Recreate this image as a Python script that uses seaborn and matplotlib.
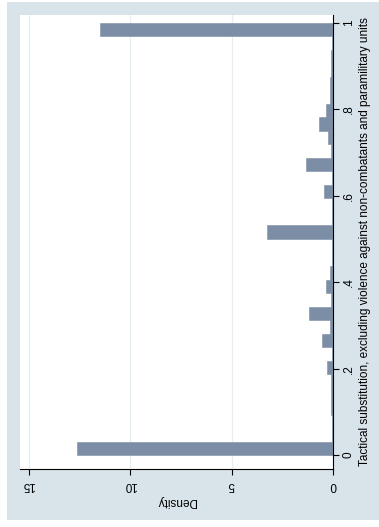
import numpy as np
import pandas as pd
import matplotlib
matplotlib.use("Agg")
import matplotlib.pyplot as plt
import seaborn as sns
from matplotlib.patches import Rectangle

# ---- data (histogram of tactical substitution, 32 bins on [0, 1]) ----
bin_edges = list(np.linspace(0, 1, 33))
densities = [12.6, 0.03, 0.05, 0.08, 0.10, 0.10, 0.31, 0.05,
             0.56, 0.15, 1.17, 0.10, 0.36, 0.15, 0.07, 0.03,
             3.27, 0.03, 0.05, 0.43, 0.05, 1.34, 0.08, 0.23,
             0.69, 0.33, 0.13, 0.13, 0.08, 0.08, 0.07, 11.5]
density_ticks = [0, 5, 10, 15]
value_ticks = [0, 0.2, 0.4, 0.6, 0.8, 1.0]
value_ticklabels = ["0", ".2", ".4", ".6", ".8", "1"]
xlabel = "Density"
ylabel = "Tactical substitution, excluding violence against non-combatants and paramilitary units"

edges_arr = np.array(bin_edges)
bin_centers = (edges_arr[:-1] + edges_arr[1:]) / 2
df = pd.DataFrame({"value": bin_centers, "density": densities})

sns.set_theme(style="white")
plt.rcParams["font.family"] = ["Liberation Sans", "DejaVu Sans"]
plt.rcParams["text.color"] = "black"
plt.rcParams["axes.labelcolor"] = "black"
plt.rcParams["xtick.color"] = "black"
plt.rcParams["ytick.color"] = "black"

W, H = 379, 527
fig = plt.figure(figsize=(W / 100, H / 100), dpi=100, facecolor="white")
fig.patches.append(Rectangle((7 / W, 1 - 520 / H), (W - 7) / W, (520 - 2) / H,
                             transform=fig.transFigure, facecolor="#D8E3EA",
                             edgecolor="none", zorder=-10))

ax = fig.add_axes([20 / W, 1 - 469 / H, (333 - 20) / W, (469 - 15) / H])
ax.set_facecolor("white")

bar_color = "#7C8EA5"
sns.histplot(data=df, y="value", weights="density", bins=bin_edges, stat="count",
             color=bar_color, alpha=1, edgecolor=bar_color, linewidth=0.4, ax=ax)

ax.set_xlim(15.42, 0)
ax.set_ylim(-0.032, 1.018)

ax.set_xticks(density_ticks)
ax.set_xticklabels([str(t) for t in density_ticks])
ax.set_yticks(value_ticks)
ax.set_yticklabels(value_ticklabels)

ax.grid(False)
for t in density_ticks[1:]:
    ax.axvline(t, color="#E7EEF2", lw=0.9, zorder=0)
ax.set_axisbelow(True)

ax.yaxis.tick_right()
ax.yaxis.set_label_position("right")
ax.tick_params(axis="y", direction="out", length=4, width=0.8, color="black",
               labelcolor="black", labelrotation=90, labelsize=8.5, pad=3,
               left=False, right=True)
ax.tick_params(axis="x", direction="out", length=4, width=0.8, color="black",
               labelcolor="black", labelrotation=180, labelsize=8.5, pad=3,
               bottom=True)
for lbl in ax.get_yticklabels():
    lbl.set_verticalalignment("center")

for s in ["left", "top"]:
    ax.spines[s].set_visible(False)
for s in ["right", "bottom"]:
    ax.spines[s].set_visible(True)
    ax.spines[s].set_color("black")
    ax.spines[s].set_linewidth(0.8)

ax.set_xlabel(xlabel, fontsize=8.5, rotation=180, labelpad=3, color="black")
ax.set_ylabel(ylabel, fontsize=8.5, rotation=90, labelpad=3, color="black")

fig.savefig("out.png", dpi=100, facecolor=fig.get_facecolor())
